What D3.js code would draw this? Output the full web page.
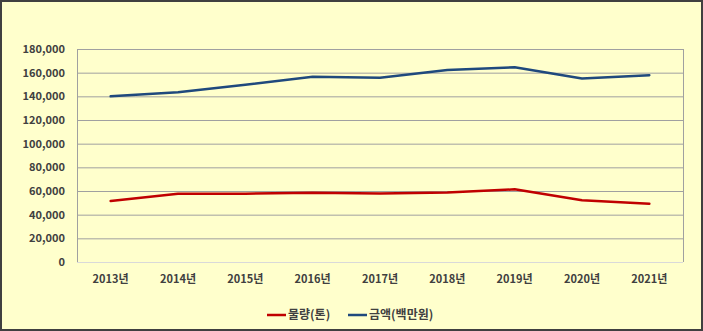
<!DOCTYPE html>
<html><head><meta charset="utf-8">
<script src="https://cdn.jsdelivr.net/npm/d3@7"></script>
<style>body{margin:0;background:#fff}svg{display:block}</style>
</head><body>
<svg id="c" width="703" height="331"></svg>
<script>
const categories = ["2013년","2014년","2015년","2016년","2017년","2018년","2019년","2020년","2021년"];
const volume = [51500, 57700, 57700, 58600, 57900, 58800, 61400, 52100, 49300];
const amount = [140000, 143500, 149700, 156600, 155800, 162300, 164500, 155000, 157800];
const yTicks = [0,20000,40000,60000,80000,100000,120000,140000,160000,180000];
const seriesNames = ["물량(톤)","금액(백만원)"];
const colors = ["#C00000","#1F497D"];

const svg = d3.select("#c");
const W=703,H=331;
svg.append("rect").attr("x",1).attr("y",1).attr("width",W-2).attr("height",H-2)
  .attr("fill","#FFFFCC").attr("stroke","#404040").attr("stroke-width",2);
const L=77,R=683,T=49,B=262;
const x = d3.scaleBand().domain(categories).range([L,R]);
const y = d3.scaleLinear().domain([0,180000]).range([B,T]);
const font = "'Noto Sans CJK KR','Liberation Sans',sans-serif";
const g = svg.append("g");
g.selectAll("line.grid").data(yTicks.filter(d=>d>0)).join("line")
  .attr("x1",L).attr("x2",R).attr("y1",d=>y(d)+0.5).attr("y2",d=>y(d)+0.5)
  .attr("stroke","#A0A0A0").attr("stroke-width",1);
g.append("line").attr("x1",L).attr("x2",R).attr("y1",B+0.5).attr("y2",B+0.5).attr("stroke","#D9D9D9");
g.append("line").attr("x1",L+0.5).attr("x2",L+0.5).attr("y1",T).attr("y2",B).attr("stroke","#A0A0A0");
g.append("line").attr("x1",R+0.5).attr("x2",R+0.5).attr("y1",T).attr("y2",B).attr("stroke","#A0A0A0");
const fmt = d3.format(",");
g.selectAll("text.yt").data(yTicks).join("text")
  .attr("x",65).attr("y",d=>y(d)).attr("dy","0.35em").attr("text-anchor","end")
  .attr("font-family",font).attr("font-size",11).attr("font-weight","bold").attr("fill","#404040")
  .text(d=>fmt(d));
g.selectAll("text.xt").data(categories).join("text")
  .attr("x",d=>x(d)+x.bandwidth()/2).attr("y",283).attr("text-anchor","middle")
  .attr("font-family",font).attr("font-size",11).attr("font-weight","bold").attr("fill","#404040")
  .text(d=>d);
const line = d3.line().x((d,i)=>x(categories[i])+x.bandwidth()/2).y(d=>y(d));
[volume,amount].forEach((s,i)=>{
  g.append("path").attr("d",line(s)).attr("fill","none").attr("stroke",colors[i])
   .attr("stroke-width",2.5).attr("stroke-linejoin","round").attr("stroke-linecap","round");
});
const leg = [{x:267},{x:348}];
seriesNames.forEach((n,i)=>{
  const lx = leg[i].x;
  g.append("line").attr("x1",lx).attr("x2",lx+19).attr("y1",315).attr("y2",315)
    .attr("stroke",colors[i]).attr("stroke-width",2.5);
  g.append("text").attr("x",lx+21).attr("y",315).attr("dy","0.35em")
    .attr("font-family",font).attr("font-size",12).attr("font-weight","bold").attr("fill","#404040").text(n);
});
</script>
</body></html>
